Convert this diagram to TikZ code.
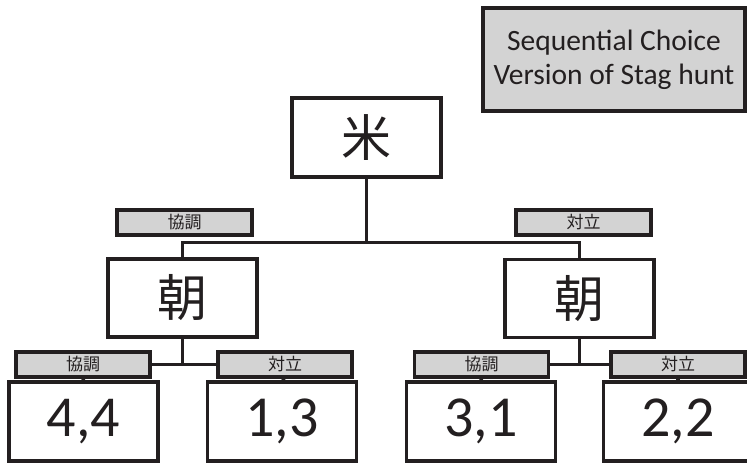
\documentclass[tikz,border=0pt]{standalone}
\usepackage{fontspec}
\setmainfont{Carlito}
\newfontfamily\cjk{Noto Sans CJK JP}
\definecolor{ink}{HTML}{231F20}
\definecolor{lab}{HTML}{D3D3D3}
\begin{document}
\begin{tikzpicture}[x=1pt,y=-1pt,
  box/.style={draw=ink,line width=3.5pt,fill=white,text=ink,inner sep=0pt,minimum width=149pt,minimum height=79pt},
  labbox/.style={draw=ink,line width=3.5pt,fill=lab,text=ink,inner sep=0pt,minimum width=134pt,minimum height=25pt,font=\cjk\fontsize{17}{18}\selectfont},
  conn/.style={draw=ink,line width=3.5pt}]
\useasboundingbox (0,0) rectangle (747,464);
\node[box,fill=lab,minimum width=262pt,minimum height=103pt,align=center,font=\fontsize{29.5}{34}\selectfont] (title) at (614,59.5) {Sequential Choice\\Version of Stag hunt};
\node[box,font=\cjk\fontsize{50}{54}\selectfont] (us) at (366.5,137.5) {米};
\node[box,minimum height=78pt,font=\cjk\fontsize{50}{54}\selectfont] (nL) at (182.5,298) {朝};
\node[box,minimum height=78pt,font=\cjk\fontsize{50}{54}\selectfont] (nR) at (579.5,298.5) {朝};
\coordinate (top) at (366.5,242.5);
\draw[conn] (us.south) -- (top);
\draw[conn] (nL.north) |- (top) -| (nR.north);
\node[labbox,minimum width=135pt] (a1) at (184.5,222.5) {協調};
\node[labbox,minimum width=135pt] (a2) at (583.5,222.5) {対立};
\node[labbox] (b1) at (83,364.5) {協調};
\node[labbox] (b2) at (285,364.5) {対立};
\node[labbox] (b3) at (481.5,364.5) {協調};
\node[labbox] (b4) at (678,364.5) {対立};
\draw[conn] (nL.south) -- (nL.south |- b1.east);
\draw[conn] (b1.east) -- (b2.west);
\draw[conn] (nR.south) -- (nR.south |- b3.east);
\draw[conn] (b3.east) -- (b4.west);
\node[box,font=\fontsize{58}{62}\selectfont] (c1) at (83.5,421.5) {4,4};
\node[box,font=\fontsize{58}{62}\selectfont] (c2) at (282,421.5) {1,3};
\node[box,font=\fontsize{58}{62}\selectfont] (c3) at (481,421.5) {3,1};
\node[box,font=\fontsize{58}{62}\selectfont] (c4) at (678,421.5) {2,2};
\draw[conn] (b1.south) -- (c1.north);
\draw[conn] (b2.south) -- (c2.north);
\draw[conn] (b3.south) -- (c3.north);
\draw[conn] (b4.south) -- (c4.north);
\end{tikzpicture}
\end{document}
